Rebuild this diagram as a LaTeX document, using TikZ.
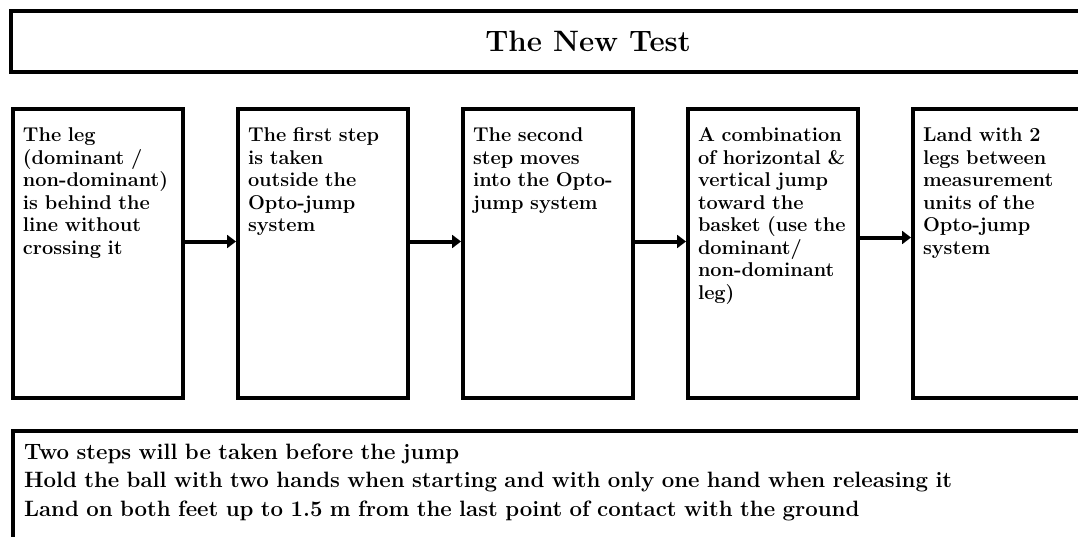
\documentclass[tikz,border=0pt]{standalone}
\usetikzlibrary{arrows.meta}

\begin{document}
\begin{tikzpicture}[node distance=5.625cm,
    stepbox/.style={draw, line width=1mm, anchor=north west, align=left, text width=3.75cm,
        inner xsep=0.25cm, inner ysep=0pt, text height=0.825cm, text depth=6.4cm,
        font=\fontsize{14.2}{16}\selectfont\bfseries},
    flow/.style={-{Triangle[length=2.2mm, width=3.2mm]}, line width=1mm}]
    \path[use as bounding box, clip] (0,0) rectangle (26.95,-13.425);

    \node (title) [draw, line width=1mm, minimum width=28.85cm, minimum height=1.525cm, inner sep=0pt,
        font=\fontsize{21}{25}\selectfont\bfseries] at (14.7,-1.0375) {The New Test};

    \node (leg) [stepbox] at (0.275,-2.675) {The leg\\(dominant /\\non-dominant)\\is behind the\\line without\\crossing it};
    \node (first) [stepbox, right of=leg, anchor=center] {The first step\\is taken\\outside the\\Opto-jump\\system};
    \node (second) [stepbox, right of=first, anchor=center] {The second\\step moves\\into the Opto-\\jump system};
    \node (jump) [stepbox, right of=second, anchor=center] {A combination\\of horizontal \&\\vertical jump\\toward the\\basket (use the\\dominant/\\non-dominant\\leg)};
    \node (land) [stepbox, right of=jump, anchor=center] {Land with 2\\legs between\\measurement\\units of the\\Opto-jump\\system};

    \draw [flow] ([yshift=3mm]leg.east) -- ([yshift=3mm]first.west);
    \draw [flow] ([yshift=3mm]first.east) -- ([yshift=3mm]second.west);
    \draw [flow] ([yshift=3mm]second.east) -- ([yshift=3mm]jump.west);
    \draw [flow] ([yshift=4mm]jump.east) -- ([yshift=4mm]land.west);

    \node (notes) [draw, line width=1mm, anchor=north west, align=left, text width=27cm,
        inner xsep=0.275cm, inner ysep=0pt, text height=0.7cm, text depth=3cm,
        font=\fontsize{15.8}{20.6}\selectfont\bfseries] at (0.275,-10.725)
        {Two steps will be taken before the jump\\Hold the ball with two hands when starting and with only one hand when releasing it\\Land on both feet up to 1.5 m from the last point of contact with the ground};
\end{tikzpicture}
\end{document}
